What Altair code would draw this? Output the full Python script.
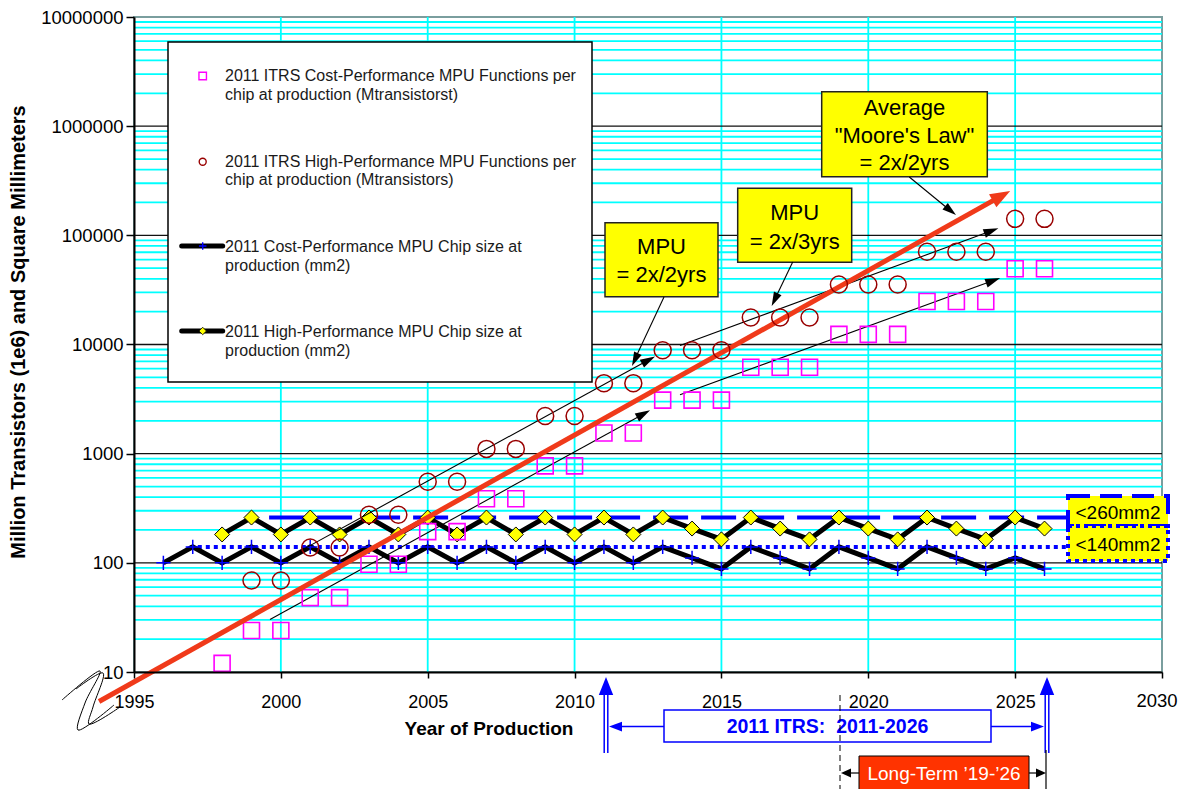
import math
import altair as alt
import pandas as pd

# ---------------- data ----------------
cp_func_years = list(range(1998, 2027))
cp_func = [12, 24, 24, 48, 48, 97, 97, 193, 193, 386, 386, 773, 773, 1546, 1546,
           3092, 3092, 3092, 6184, 6184, 6184, 12368, 12368, 12368,
           24736, 24736, 24736, 49471, 49471]

hp_func_years = list(range(1999, 2027))
hp_func = [69, 69, 138, 138, 276, 276, 553, 553, 1106, 1106, 2212, 2212, 4424, 4424,
           8848, 8848, 8848, 17696, 17696, 17696, 35391, 35391, 35391,
           70782, 70782, 70782, 141564, 141564]

cp_size_years = list(range(1996, 2027))
cp_size = [100, 140, 100, 140, 100, 140, 100, 140, 100, 140, 100, 140, 100, 140, 100, 140, 100,
           140, 111, 88, 140, 111, 88, 140, 111, 88, 140, 111, 88, 111, 88]

hp_size_years = list(range(1998, 2027))
hp_size = [182, 260, 182, 260, 182, 260, 182, 260, 182, 260, 182, 260, 182, 260, 182,
           260, 206, 164, 260, 206, 164, 260, 206, 164, 260, 206, 164, 260, 206]

x_ticks = [1995, 2000, 2005, 2010, 2015, 2020, 2025, 2030]
y_ticks = [10, 100, 1000, 10000, 100000, 1000000, 10000000]
x_grid = [2000, 2005, 2010, 2015, 2020, 2025]
y_decades = [100, 1000, 10000, 100000, 1000000]
y_minor = [k * 10 ** e for e in range(1, 7) for k in range(2, 10)]

limit_values = [260, 140]
limit_labels = ["<260mm2", "<140mm2"]
limit_start = [1999.6, 1996.9]
limit_end = [2026.8, 2026.8]

trend_names = ["moore", "hp2", "cp2", "hp3", "cp3"]
trend_x0 = [1993.81, 2000.65, 1999.63, 2013.59, 2013.59]
trend_v0 = [5.37, 128, 30.3, 9800, 3459]
trend_x1 = [2024.83, 2012.74, 2012.57, 2024.43, 2024.49]
trend_v1 = [254700, 7780, 2495, 115900, 40600]

legend_lines = [
    "2011 ITRS Cost-Performance MPU Functions per", "chip at production (Mtransistorst)",
    "2011 ITRS High-Performance MPU Functions per", "chip at production (Mtransistors)",
    "2011 Cost-Performance MPU Chip size at", "production (mm2)",
    "2011 High-Performance MPU Chip size at", "production (mm2)",
]

# ---------------- layout ----------------
PAD_LEFT, PAD_TOP, PAD_RIGHT = 126, 9, 16
LEFT, TOP = 8 + PAD_LEFT, 8 + PAD_TOP      # page position of the plot origin
W, H = 1028, 672 - TOP
FONT = "Liberation Sans"
RED = "#F03A1A"
CYAN = "#00FFFF"
BLUE = "#0000FF"

xscale = alt.Scale(domain=[1995, 2030], nice=False, zero=False)
yscale = alt.Scale(type="log", domain=[10, 10000000], nice=False)
xaxis = alt.Axis(values=x_ticks, format="d", title=None, grid=False, domainColor="black",
                 domainWidth=2, tickColor="black", tickSize=6, tickWidth=1.5, labelFont=FONT,
                 labelFontSize=18, labelColor="black", labelPadding=15, labelFlush=False,
                 labelOverlap=False, zindex=1,
                 labelExpr="datum.value == 2030 ? '' : datum.label")
yaxis = alt.Axis(values=y_ticks, format="d", title=None, grid=False, domainColor="black",
                 domainWidth=2, tickColor="black", tickSize=8, tickWidth=1.5, labelFont=FONT,
                 labelFontSize=18.5, labelColor="black", labelPadding=3, labelFlush=False,
                 labelOverlap=False, zindex=1)


def X(f):
    return alt.X(f"{f}:Q", scale=xscale, axis=xaxis)


def Y(f):
    return alt.Y(f"{f}:Q", scale=yscale, axis=yaxis)


def PX(f="x"):
    return alt.X(f"{f}:Q", scale=None, axis=None)


def PY(f="y"):
    return alt.Y(f"{f}:Q", scale=None, axis=None)


def px(year):
    return (year - 1995) / 35 * W


def py(v):
    return H - (math.log10(v) - 1) / 6 * H


def ang(x0, v0, x1, v1):
    return math.degrees(math.atan2(py(v1) - py(v0), px(x1) - px(x0))) % 360


def ax(a):  # page x -> plot pixel x
    return a - LEFT


def ay(a):  # page y -> plot pixel y
    return a - TOP


ONE = pd.DataFrame({"a": [0]})
HEAD = "M0,0L-2,-0.6L-2,0.6Z"


def rect(x, y, x2, y2, **kw):
    return alt.Chart(ONE).mark_rect(**kw).encode(
        x=alt.value(ax(x)), x2=alt.value(ax(x2)), y=alt.value(ay(y)), y2=alt.value(ay(y2)))


def texts(rows, **kw):
    df = pd.DataFrame([(ax(x), ay(y), t) for x, y, t in rows], columns=["x", "y", "t"])
    return alt.Chart(df).mark_text(font=FONT, **kw).encode(x=PX(), y=PY(), text="t:N")


def segs(rows, **kw):
    df = pd.DataFrame([(ax(a), ay(b), ax(c), ay(d)) for a, b, c, d in rows], columns=["x", "y", "x2", "y2"])
    return alt.Chart(df).mark_rule(**kw).encode(x=PX(), y=PY(), x2="x2:Q", y2="y2:Q")


def heads(rows, size, shape=HEAD, **kw):
    df = pd.DataFrame([(ax(a), ay(b), g) for a, b, g in rows], columns=["x", "y", "ang"])
    return alt.Chart(df).mark_point(shape=shape, filled=True, opacity=1, size=size, **kw).encode(
        x=PX(), y=PY(), angle=alt.Angle("ang:Q", scale=None))


def dot(x, y, **kw):
    return alt.Chart(pd.DataFrame({"x": [ax(x)], "y": [ay(y)]})).mark_point(opacity=1, **kw).encode(
        x=PX(), y=PY())


layers = []

# ---- grid ----
layers.append(alt.Chart(pd.DataFrame({"v": y_minor})).mark_rule(color=CYAN, strokeWidth=1.8)
              .encode(y=Y("v")))
layers.append(alt.Chart(pd.DataFrame({"yr": x_grid})).mark_rule(color=CYAN, strokeWidth=1.8)
              .encode(x=X("yr")))
layers.append(alt.Chart(pd.DataFrame({"v": y_decades})).mark_rule(color="#111", strokeWidth=1.4)
              .encode(y=Y("v")))

# ---- limit lines ----
lim = pd.DataFrame({"v": limit_values, "x0": limit_start, "x1": limit_end})
layers.append(alt.Chart(lim.iloc[[0]]).mark_rule(color=BLUE, strokeWidth=4, strokeDash=[35, 13])
              .encode(x=X("x0"), x2="x1:Q", y=Y("v")))
layers.append(alt.Chart(lim.iloc[[1]]).mark_rule(color=BLUE, strokeWidth=4, strokeDash=[4, 4])
              .encode(x=X("x0"), x2="x1:Q", y=Y("v")))

# ---- chip size series ----
cps = pd.DataFrame({"yr": cp_size_years, "v": cp_size})
hps = pd.DataFrame({"yr": hp_size_years, "v": hp_size})
layers.append(alt.Chart(cps).mark_line(color="black", strokeWidth=5).encode(x=X("yr"), y=Y("v")))
layers.append(alt.Chart(cps).mark_point(shape="M-1,0L1,0M0,-1L0,1", filled=False, color=BLUE,
                                        strokeWidth=1.5, size=200, opacity=1)
              .encode(x=X("yr"), y=Y("v")))
layers.append(alt.Chart(hps).mark_line(color="black", strokeWidth=5).encode(x=X("yr"), y=Y("v")))
layers.append(alt.Chart(hps).mark_point(shape="diamond", filled=True, fill="#FFFF00", stroke="black",
                                        strokeWidth=1, size=225, opacity=1)
              .encode(x=X("yr"), y=Y("v")))

# ---- trend lines ----
trows, hrows = [], []
for i, name in enumerate(trend_names):
    x0, v0, x1, v1 = trend_x0[i], trend_v0[i], trend_x1[i], trend_v1[i]
    L = math.hypot(px(x1) - px(x0), py(v1) - py(v0))
    f = 1 - (14 if name == "moore" else 8) / L
    xe = x0 + (x1 - x0) * f
    ve = 10 ** (math.log10(v0) + (math.log10(v1) - math.log10(v0)) * f)
    trows += [{"name": name, "o": 0, "yr": x0, "v": v0}, {"name": name, "o": 1, "yr": xe, "v": ve}]
    hrows.append({"name": name, "yr": x1, "v": v1, "ang": ang(x0, v0, x1, v1)})
tdf = pd.DataFrame(trows)
hdf = pd.DataFrame(hrows)
layers.append(alt.Chart(tdf[tdf.name != "moore"]).mark_line(color="black", strokeWidth=1.1, clip=False)
              .encode(x=X("yr"), y=Y("v"), detail="name:N", order="o:Q"))
layers.append(alt.Chart(hdf[hdf.name != "moore"]).mark_point(shape=HEAD, filled=True, color="black",
                                                             size=225, opacity=1)
              .encode(x=X("yr"), y=Y("v"), angle=alt.Angle("ang:Q", scale=None)))

# ---- function series ----
layers.append(alt.Chart(pd.DataFrame({"yr": cp_func_years, "v": cp_func}))
              .mark_point(shape="square", filled=False, color="#FF00FF", strokeWidth=1.6, size=256, opacity=1)
              .encode(x=X("yr"), y=Y("v")))

layers.append(alt.Chart(tdf[tdf.name == "moore"]).mark_line(color=RED, strokeWidth=5, clip=False)
              .encode(x=X("yr"), y=Y("v"), order="o:Q"))
layers.append(alt.Chart(hdf[hdf.name == "moore"]).mark_point(shape="M0,0L-2,-0.75L-2,0.75Z", filled=True,
                                                             color=RED, size=400, opacity=1)
              .encode(x=X("yr"), y=Y("v"), angle=alt.Angle("ang:Q", scale=None)))

layers.append(alt.Chart(pd.DataFrame({"yr": hp_func_years, "v": hp_func}))
              .mark_point(shape="circle", filled=False, color="#990000", strokeWidth=1.5, size=289, opacity=1)
              .encode(x=X("yr"), y=Y("v")))

# ---- callout boxes ----
for (x, y, x2, y2) in [(605, 222.7, 718, 296.7), (737.7, 188.3, 851.7, 262.3), (821.7, 91.7, 987.3, 176.7)]:
    layers.append(rect(x, y, x2, y2, fill="#FFFF00", stroke="#222", strokeWidth=1.5))
layers.append(texts([(661.5, 246.7, "MPU"), (661.5, 275, "= 2x/2yrs"),
                     (794.7, 212.5, "MPU"), (794.7, 241.7, "= 2x/3yrs"),
                     (904.5, 107.7, "Average"), (904.5, 135.5, "\"Moore's Law\""),
                     (904.5, 162.7, "= 2x/2yrs")],
                    fontSize=22, color="black", align="center", baseline="middle"))
layers.append(segs([(664, 297, 634, 361), (792.7, 262, 774, 301), (909.3, 177, 952, 212)],
                   color="black", strokeWidth=1.1))
layers.append(heads([(632, 366, math.degrees(math.atan2(69, -32)) % 360),
                     (771.7, 306, math.degrees(math.atan2(44, -21)) % 360),
                     (956, 215, math.degrees(math.atan2(38, 46.7)) % 360)],
                    size=196, color="black"))

# ---- right limit boxes ----
layers.append(rect(1068, 496, 1168, 526, fill="#FFFF00", stroke=BLUE, strokeWidth=4, strokeDash=[22, 10]))
layers.append(rect(1068, 526, 1168, 561, fill="#FFFF00", stroke=BLUE, strokeWidth=4, strokeDash=[4, 4]))
layers.append(texts([(1118, 513, limit_labels[0]), (1118, 545, limit_labels[1])],
                    fontSize=19, color="black", align="center", baseline="middle"))

# ---- legend ----
layers.append(rect(168, 42, 592, 382, fill="white", stroke="black", strokeWidth=1.5))
layers.append(segs([(181.7, 246, 222.7, 246), (181.7, 331, 222.7, 331)],
                   color="black", strokeWidth=5, strokeCap="round"))
layers.append(dot(202.7, 76, shape="square", filled=False, color="#FF00FF", strokeWidth=1.4, size=56))
layers.append(dot(202.7, 161.7, shape="circle", filled=False, color="#990000", strokeWidth=1.4, size=49))
layers.append(dot(202.7, 246, shape="M-1,0L1,0M0,-1L0,1", filled=False, color=BLUE, strokeWidth=1.4, size=56))
layers.append(dot(202.7, 331, shape="diamond", filled=True, fill="#FFFF00", stroke="black",
                  strokeWidth=0.8, size=56))
leg_y = [76, 94.5, 161.7, 180, 246.7, 265.5, 331.7, 350.5]
layers.append(texts([(225, leg_y[i], legend_lines[i]) for i in range(8)],
                    fontSize=16, color="#1a1a1a", align="left", baseline="middle"))

# ---- axis titles and the last x label (kept inside the page) ----
layers.append(texts([(1157, 701, "2030")], fontSize=18.5, color="black", align="center", baseline="middle"))
layers.append(texts([(489, 729, "Year of Production")], fontSize=19, fontWeight="bold",
                    color="black", align="center", baseline="middle"))
layers.append(texts([(19, 332, "Million Transistors (1e6) and Square Millimeters")], fontSize=20,
                    fontWeight="bold", color="black", align="center", baseline="middle", angle=270))

# ---- axis break squiggle ----
sq = pd.DataFrame({
    "s": ["a"] * 5 + ["b"] * 5,
    "o": list(range(5)) * 2,
    "x": [ax(v) for v in [62, 100, 85, 78, 114, 76, 103, 93, 89, 120]],
    "y": [ay(v) for v in [700, 671, 703, 730, 705, 689, 673, 707, 724, 707]],
})
layers.append(alt.Chart(sq).mark_line(color="black", strokeWidth=1, interpolate="catmull-rom", clip=False)
              .encode(x=PX(), y=PY(), detail="s:N", order="o:Q"))

# ---- bottom time-span annotations ----
layers.append(segs([(604.2, 693, 604.2, 753), (607.8, 693, 607.8, 753),
                    (1045.2, 693, 1045.2, 753), (1048.8, 693, 1048.8, 753)],
                   color=BLUE, strokeWidth=1.5))
layers.append(heads([(606, 677, 270), (1047, 677, 270)], size=324, shape="M0,0L-2,-0.8L-2,0.8Z", color=BLUE))
layers.append(rect(664, 710, 991, 742, fill="white", stroke=BLUE, strokeWidth=1.5))
layers.append(texts([(827.5, 727, "2011 ITRS:\u00a0 2011-2026")], fontSize=19.5, fontWeight="bold",
                    color=BLUE, align="center", baseline="middle"))
layers.append(segs([(664, 726.5, 619, 726.5), (991, 726.5, 1034, 726.5)], color=BLUE, strokeWidth=1.5))
layers.append(heads([(609, 726.5, 180), (1044, 726.5, 0)], size=169, shape="M0,0L-2,-0.75L-2,0.75Z",
                    color=BLUE))
layers.append(segs([(840, 695, 840, 797)], color="black", strokeWidth=1, strokeDash=[6, 4]))
layers.append(segs([(1046, 750, 1046, 797)], color="black", strokeWidth=1.2))
layers.append(rect(859, 756, 1029, 795, fill="#FF3300", stroke="black", strokeWidth=1))
layers.append(texts([(944, 774, "Long-Term \u201919-\u201926")], fontSize=19, color="white",
                    align="center", baseline="middle"))
layers.append(segs([(859, 773, 846, 773), (1029, 773, 1041, 773)], color="black", strokeWidth=1.2))
layers.append(heads([(841, 773, 180), (1046, 773, 0)], size=100, shape="M0,0L-2,-0.9L-2,0.9Z",
                    color="black"))

chart = alt.layer(*layers).properties(
    width=W, height=H,
    padding={"left": PAD_LEFT, "top": PAD_TOP, "right": PAD_RIGHT, "bottom": 125},
    autosize=alt.AutoSizeParams(type="none"),
    background="white",
).configure_view(stroke="#7a9e9e", strokeWidth=2)

chart.save("out.html", embed_options={"renderer": "svg", "actions": False})
